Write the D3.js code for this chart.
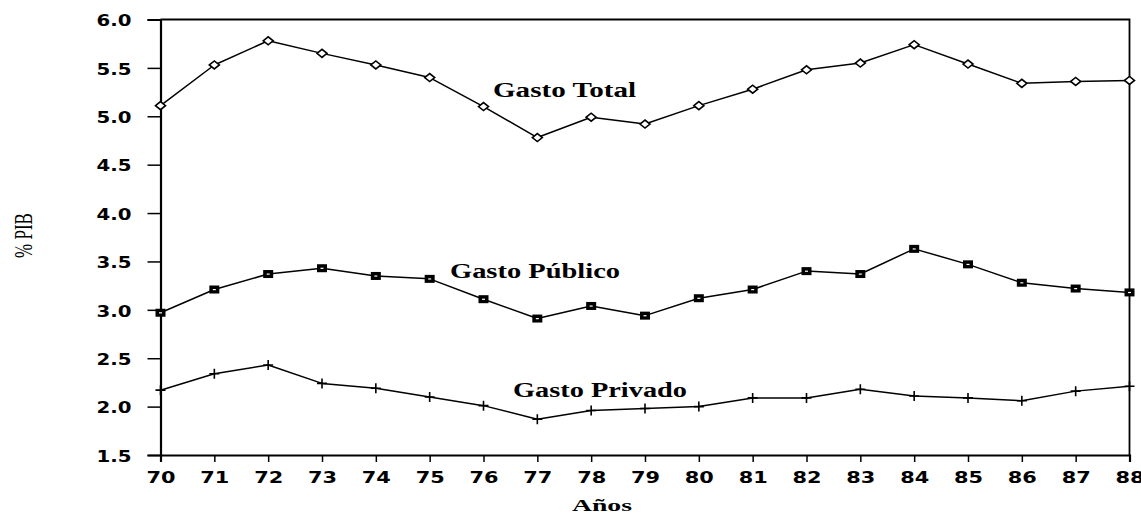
<!DOCTYPE html>
<html>
<head>
<meta charset="utf-8">
<script src="https://cdn.jsdelivr.net/npm/d3@7"></script>
<style>
  html, body { margin: 0; padding: 0; background: #fff; }
  svg { display: block; }
</style>
</head>
<body>
<svg id="chart" width="1141" height="514"></svg>
<script>
const years = ["70","71","72","73","74","75","76","77","78","79","80","81","82","83","84","85","86","87","88"];
const gastoTotal   = [5.11,5.53,5.78,5.65,5.53,5.40,5.10,4.78,4.99,4.92,5.11,5.28,5.48,5.55,5.74,5.54,5.34,5.36,5.37];
const gastoPublico = [2.97,3.21,3.37,3.43,3.35,3.32,3.11,2.91,3.04,2.94,3.12,3.21,3.40,3.37,3.63,3.47,3.28,3.22,3.18];
const gastoPrivado = [2.17,2.34,2.43,2.24,2.19,2.10,2.01,1.87,1.96,1.98,2.00,2.09,2.09,2.18,2.11,2.09,2.06,2.16,2.21];
const yTicks = [1.5,2.0,2.5,3.0,3.5,4.0,4.5,5.0,5.5,6.0];
const seriesLabels = ["Gasto Total","Gasto Público","Gasto Privado"];
const yTitle = "% PIB";
const xTitle = "Años";

(function () {
const svg = d3.select("#chart");
const pL = 160.5, pR = 1129.5, pT = 19.5, pB = 455;

const x = d3.scalePoint().domain(years).range([pL, pR]).padding(0);
const y = d3.scaleLinear().domain([1.5, 6.0]).range([pB, pT]);

const tickFont = "'DejaVu Sans', sans-serif";
const serif = "'Liberation Serif', 'Times New Roman', serif";

// frame (top + right)
svg.append("path")
  .attr("d", `M${pL},${pT}H${pR}V${pB}`)
  .attr("fill", "none").attr("stroke", "#000").attr("stroke-width", 1.8);

// y axis
const yAxis = svg.append("g").attr("transform", `translate(${pL},0)`)
  .call(d3.axisLeft(y).tickValues(yTicks).tickFormat(d3.format(".1f")).tickSizeOuter(0).tickSize(13).tickPadding(16));
yAxis.select(".domain").attr("stroke-width", 2.2);
yAxis.selectAll(".tick line").attr("stroke-width", 1.5);
yAxis.selectAll(".tick text")
  .attr("font-family", tickFont).attr("font-weight", "bold").attr("font-size", 15)
  .attr("fill", "#000").attr("dy", "0.42em")
  .attr("textLength", 35).attr("lengthAdjust", "spacingAndGlyphs");

// x axis
const xAxis = svg.append("g").attr("transform", `translate(0,${pB})`)
  .call(d3.axisBottom(x).tickSizeOuter(0).tickSize(7).tickPadding(9));
xAxis.select(".domain").attr("stroke-width", 2.2);
xAxis.selectAll(".tick line").attr("stroke-width", 1.5);
xAxis.selectAll(".tick text")
  .attr("font-family", tickFont).attr("font-weight", "bold").attr("font-size", 16.5)
  .attr("fill", "#000").attr("dy", "0.72em")
  .attr("textLength", 29).attr("lengthAdjust", "spacingAndGlyphs");

// lines
const line = d3.line().x((d, i) => x(years[i])).y(d => y(d));
[gastoTotal, gastoPublico, gastoPrivado].forEach(s => {
  svg.append("path").datum(s).attr("d", line)
    .attr("fill", "none").attr("stroke", "#000").attr("stroke-width", 1.5)
    .attr("stroke-linejoin", "round");
});

// markers: Gasto Total - open diamonds
svg.append("g").selectAll("path").data(gastoTotal).join("path")
  .attr("transform", (d, i) => `translate(${x(years[i])},${y(d)})`)
  .attr("d", "M-5,0L0,-4L5,0L0,4Z")
  .attr("fill", "#fff").attr("stroke", "#000").attr("stroke-width", 1.6);

// markers: Gasto Público - filled squares
const sq = svg.append("g").selectAll("g").data(gastoPublico).join("g")
  .attr("transform", (d, i) => `translate(${x(years[i])},${y(d)})`);
sq.append("rect").attr("x", -5).attr("y", -4).attr("width", 10).attr("height", 8)
  .attr("fill", "#000");
sq.append("rect").attr("x", -1.5).attr("y", -0.5).attr("width", 3).attr("height", 1.2)
  .attr("fill", "#fff");

// markers: Gasto Privado - plus signs
svg.append("g").selectAll("path").data(gastoPrivado).join("path")
  .attr("transform", (d, i) => `translate(${x(years[i])},${y(d)})`)
  .attr("d", "M-5,0H5M0,-5V5")
  .attr("fill", "none").attr("stroke", "#000").attr("stroke-width", 1.6);

// series labels
const labelPos = [
  {x: 493, y: 97, w: 143},
  {x: 450, y: 278, w: 170},
  {x: 513, y: 397, w: 174}
];
seriesLabels.forEach((t, i) => {
  svg.append("text").text(t)
    .attr("x", labelPos[i].x).attr("y", labelPos[i].y)
    .attr("font-family", serif).attr("font-weight", "bold").attr("font-size", 20)
    .attr("fill", "#000")
    .attr("textLength", labelPos[i].w).attr("lengthAdjust", "spacingAndGlyphs");
});

// axis titles
svg.append("text").text(xTitle)
  .attr("x", 572).attr("y", 511)
  .attr("font-family", serif).attr("font-weight", "bold").attr("font-size", 17)
  .attr("fill", "#000")
  .attr("textLength", 60).attr("lengthAdjust", "spacingAndGlyphs");

svg.append("text").text(yTitle)
  .attr("transform", "translate(32,258) rotate(-90)")
  .attr("font-family", serif).attr("font-size", 26)
  .attr("fill", "#000")
  .attr("textLength", 45).attr("lengthAdjust", "spacingAndGlyphs");
})();
</script>
</body>
</html>
